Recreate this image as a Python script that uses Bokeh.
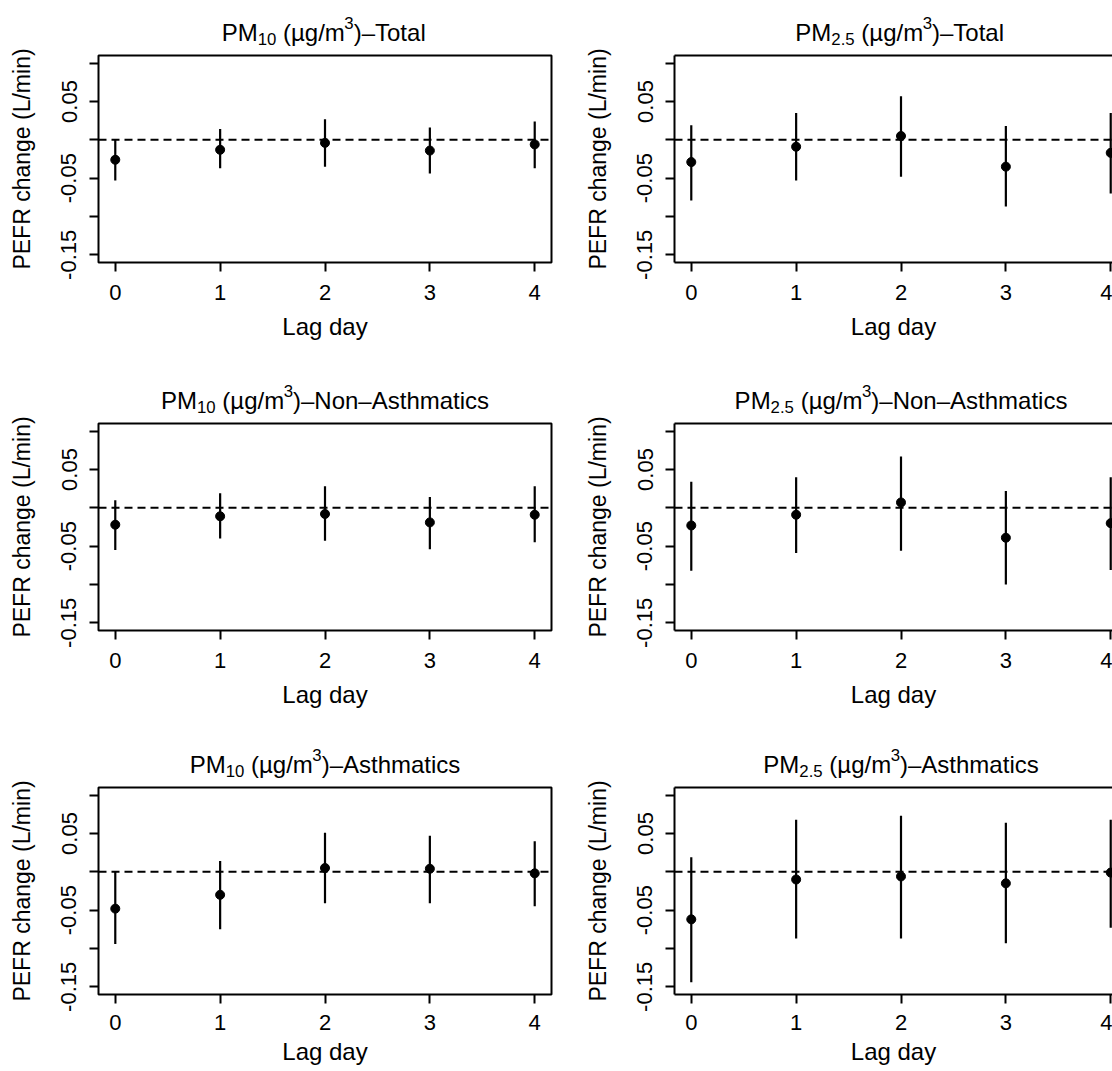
from bokeh.plotting import figure
from bokeh.layouts import column, row
from bokeh.models import FixedTicker, LinearAxis, Range1d, Span, CustomJSTickFormatter
from bokeh.core.properties import value
from bokeh.embed import file_html
from bokeh.resources import INLINE

# ---- data: PEFR change (L/min), estimate with lower / upper 95% limits ----
lags = [0, 1, 2, 3, 4]

pm10_total_est = [-0.026, -0.013, -0.004, -0.014, -0.006]
pm10_total_lo = [-0.053, -0.037, -0.035, -0.044, -0.037]
pm10_total_hi = [0.001, 0.014, 0.027, 0.016, 0.024]

pm25_total_est = [-0.029, -0.009, 0.005, -0.035, -0.017]
pm25_total_lo = [-0.079, -0.053, -0.048, -0.087, -0.070]
pm25_total_hi = [0.019, 0.035, 0.057, 0.018, 0.035]

pm10_nonasth_est = [-0.022, -0.011, -0.008, -0.019, -0.009]
pm10_nonasth_lo = [-0.055, -0.040, -0.043, -0.054, -0.045]
pm10_nonasth_hi = [0.010, 0.019, 0.028, 0.014, 0.028]

pm25_nonasth_est = [-0.023, -0.009, 0.007, -0.039, -0.020]
pm25_nonasth_lo = [-0.082, -0.059, -0.056, -0.100, -0.081]
pm25_nonasth_hi = [0.034, 0.040, 0.067, 0.022, 0.040]

pm10_asth_est = [-0.048, -0.030, 0.005, 0.004, -0.002]
pm10_asth_lo = [-0.094, -0.075, -0.041, -0.041, -0.045]
pm10_asth_hi = [0.000, 0.014, 0.051, 0.047, 0.040]

pm25_asth_est = [-0.062, -0.010, -0.006, -0.015, -0.001]
pm25_asth_lo = [-0.144, -0.087, -0.087, -0.093, -0.073]
pm25_asth_hi = [0.019, 0.068, 0.073, 0.064, 0.068]

y_major_ticks = [0.05, -0.05, -0.15]
y_minor_ticks = [0.10, 0.00, -0.10]

groups = ["Total", "Non\u2013Asthmatics", "Asthmatics"]
pollutants = ["10", "2.5"]

series = [
    [(pm10_total_est, pm10_total_lo, pm10_total_hi),
     (pm25_total_est, pm25_total_lo, pm25_total_hi)],
    [(pm10_nonasth_est, pm10_nonasth_lo, pm10_nonasth_hi),
     (pm25_nonasth_est, pm25_nonasth_lo, pm25_nonasth_hi)],
    [(pm10_asth_est, pm10_asth_lo, pm10_asth_hi),
     (pm25_asth_est, pm25_asth_lo, pm25_asth_hi)],
]

# ---- layout ----
FONT = "Liberation Sans"
TICK_PX = 22
LABEL_PX = 24
YLABEL_PX = 23
TITLE_PX = 24
SCRIPT_PX = TITLE_PX * 0.7
ROW_H = [367, 366, 338]
ROW_TOP = [55, 56, 54]
X_STANDOFF = [13, 13, 11]
XLAB_STANDOFF = [10, 10, 5]
PLOT_TOP = 8
FRAME_H = 207
BORDER_L = 98
LEFT_W, LEFT_BR = 576, 25
RIGHT_W, RIGHT_BR = 536, 0
X_LO, X_HI = -0.16, 4.16
Y_LO, Y_HI = -0.16, 0.11
LEFT_FRAME_W = LEFT_W - BORDER_L - LEFT_BR
PX_PER_X = LEFT_FRAME_W / (X_HI - X_LO)
TITLE_RAISE = 23

# Helvetica advance widths (per 1000 em) for laying out the mixed-size title
HELV = {"P": 667, "M": 833, " ": 278, "(": 333, ")": 333, "\u00b5": 556,
        "g": 556, "/": 278, "m": 833, "\u2013": 556, "T": 611, "o": 556,
        "t": 278, "a": 556, "l": 222, "N": 722, "n": 556, "A": 667,
        "s": 500, "h": 556, "i": 222, "c": 500, ".": 278}


def text_width(s, size):
    return sum(HELV.get(ch, 556) for ch in s) * size / 1000.0


def make_title(width, br, height, sub, group):
    # strip above the panel with the same side borders, so both frames line up;
    # one data unit per pixel
    frame_w = width - BORDER_L - br
    t = figure(width=width, height=height, title=None,
               x_range=Range1d(0, frame_w), y_range=Range1d(0, height),
               output_backend="svg", toolbar_location=None, tools="",
               x_axis_location=None, y_axis_location=None,
               min_border_left=BORDER_L, min_border_right=br,
               min_border_top=0, min_border_bottom=0)
    t.outline_line_color = None
    t.background_fill_color = "white"
    t.border_fill_color = "white"
    for g in t.grid:
        g.visible = False
    base = TITLE_RAISE - PLOT_TOP
    # (text, size, baseline shift, extra space after)
    runs = [("PM", TITLE_PX, 0, 0), (sub, SCRIPT_PX, -6, text_width(" ", TITLE_PX)),
            ("(\u00b5g/m", TITLE_PX, 0, 0), ("3", SCRIPT_PX, 10, 0),
            (")\u2013" + group, TITLE_PX, 0, 0)]
    total = sum(text_width(s, sz) + gap for s, sz, _, gap in runs)
    x = LEFT_FRAME_W / 2.0 - total / 2.0
    for s, sz, dy, gap in runs:
        t.text(x=[x], y=[base + dy], text=[s], text_font=value(FONT),
               text_font_size=value(f"{sz:.1f}px"), text_color="black",
               text_baseline=value("alphabetic"), text_align=value("left"))
        x += text_width(s, sz) + gap
    return t


def style_axis(ax, draw_line, label_px):
    ax.major_tick_in = 0
    ax.major_tick_out = 9
    ax.minor_tick_in = 0
    ax.minor_tick_out = 9
    ax.major_tick_line_width = 2
    ax.minor_tick_line_width = 2
    ax.major_tick_line_color = "black"
    ax.minor_tick_line_color = "black"
    ax.axis_line_width = 2
    ax.axis_line_color = "black" if draw_line else None
    ax.major_label_text_font = FONT
    ax.major_label_text_font_size = f"{TICK_PX}px"
    ax.major_label_text_color = "black"
    ax.axis_label_text_font = FONT
    ax.axis_label_text_font_size = f"{label_px}px"
    ax.axis_label_text_font_style = "normal"
    ax.axis_label_text_color = "black"


def make_panel(r, c):
    est, lo, hi = series[r][c]
    right = c == 1
    width = RIGHT_W if right else LEFT_W
    br = RIGHT_BR if right else LEFT_BR
    frame_w = width - BORDER_L - br
    x_hi = X_LO + frame_w / PX_PER_X
    h = ROW_H[r] - (ROW_TOP[r] - PLOT_TOP)
    p = figure(width=width, height=h, title=None,
               x_range=Range1d(X_LO, x_hi), y_range=Range1d(Y_LO, Y_HI),
               output_backend="svg", toolbar_location=None, tools="",
               x_axis_location=None, y_axis_location=None,
               min_border_left=BORDER_L, min_border_right=br,
               min_border_top=PLOT_TOP, min_border_bottom=h - PLOT_TOP - FRAME_H)
    p.background_fill_color = "white"
    p.border_fill_color = "white"
    for g in p.grid:
        g.visible = False

    xaxis = LinearAxis(ticker=FixedTicker(ticks=lags), axis_label="Lag day")
    style_axis(xaxis, right, LABEL_PX)
    xaxis.major_label_standoff = X_STANDOFF[r]
    xaxis.axis_label_standoff = XLAB_STANDOFF[r]
    p.add_layout(xaxis, "below")

    yaxis = LinearAxis(ticker=FixedTicker(ticks=y_major_ticks, minor_ticks=y_minor_ticks),
                       axis_label="PEFR change (L/min)",
                       formatter=CustomJSTickFormatter(code="return tick.toFixed(2)"))
    style_axis(yaxis, right, YLABEL_PX)
    yaxis.major_label_orientation = "vertical"
    yaxis.major_label_standoff = 13
    yaxis.axis_label_standoff = 24
    p.add_layout(yaxis, "left")

    if right:
        # frame runs past the page edge: only top, left and bottom sides drawn
        p.outline_line_color = None
        top_axis = LinearAxis(ticker=FixedTicker(ticks=[]))
        top_axis.major_label_text_font_size = "0px"
        top_axis.major_tick_out = 0
        top_axis.minor_tick_out = 0
        top_axis.major_label_standoff = 0
        top_axis.axis_line_width = 2
        top_axis.axis_line_color = "black"
        p.add_layout(top_axis, "above")
    else:
        p.outline_line_color = "black"
        p.outline_line_width = 2
        p.outline_line_alpha = 1.0

    p.add_layout(Span(location=0, dimension="width", line_color="black",
                      line_width=2, line_dash="8 5"))
    p.segment(x0=lags, y0=lo, x1=lags, y1=hi, line_color="black", line_width=2.2)
    p.scatter(x=lags, y=est, size=9, color="black")

    title = make_title(width, br, ROW_TOP[r] - PLOT_TOP, pollutants[c], groups[r])
    return column(title, p, spacing=0)


rows = [row(make_panel(r, 0), make_panel(r, 1), spacing=0) for r in range(3)]
layout = column(*rows, spacing=0)

with open("out.html", "w") as f:
    f.write(file_html(layout, INLINE))
